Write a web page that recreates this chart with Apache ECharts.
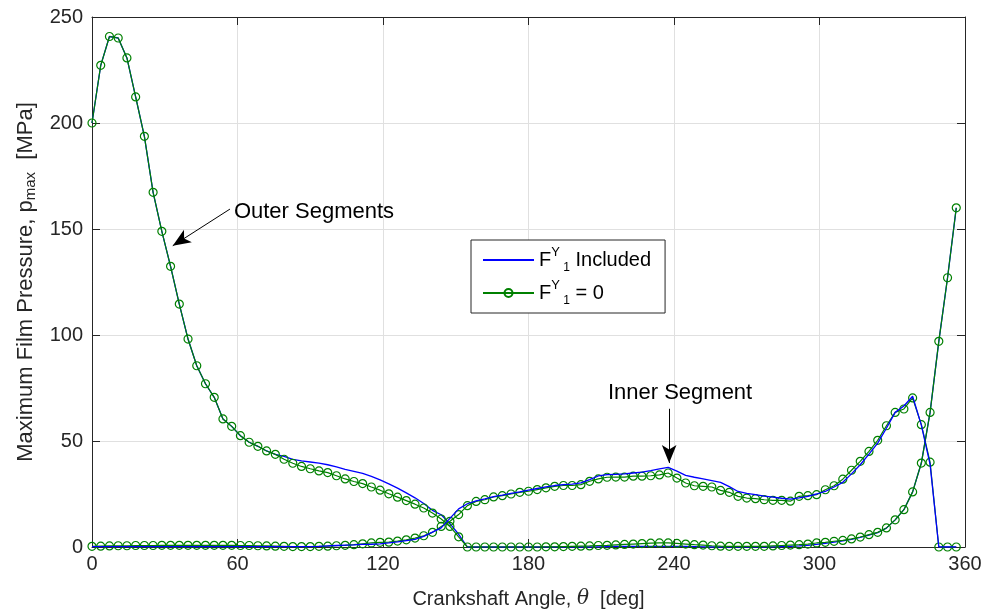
<!DOCTYPE html>
<html><head><meta charset="utf-8">
<script src="https://cdn.jsdelivr.net/npm/echarts@6/dist/echarts.min.js"></script>
<style>html,body{margin:0;padding:0;background:#fff}#c{width:987px;height:615px}</style>
</head><body><div id="c"></div>
<script>
// Crankshaft angle (deg)
const angles = [0,3.6,7.2,10.8,14.4,18,21.6,25.2,28.8,32.4,36,39.6,43.2,46.8,50.4,54,57.6,61.2,64.8,68.4,
72,75.6,79.2,82.8,86.4,90,93.6,97.2,100.8,104.4,108,111.6,115.2,118.8,122.4,126,129.6,133.2,136.8,140.4,
144,147.6,151.2,154.8,158.4,162,165.6,169.2,172.8,176.4,180,183.6,187.2,190.8,194.4,198,201.6,205.2,208.8,212.4,
216,219.6,223.2,226.8,230.4,234,237.6,241.2,244.8,248.4,252,255.6,259.2,262.8,266.4,270,273.6,277.2,280.8,284.4,
288,291.6,295.2,298.8,302.4,306,309.6,313.2,316.8,320.4,324,327.6,331.2,334.8,338.4,342,345.6,349.2,352.8,356.4];

// Outer segments, F^Y_1 included (blue)
const outerIncluded = [200,227.2,240.8,240.1,230.7,212.3,193.7,167.3,148.9,132.4,
114.6,98.1,85.5,77.0,70.6,60.4,56.9,52.5,49.4,47.5,
45.3,43.7,42.7,41.3,40.6,40.1,39.6,38.8,37.8,36.6,
35.7,34.7,33.3,31.7,29.8,27.8,25.5,23.2,20.5,17.3,
15.2,11.0,6.0,0,0,0,0,0,0,0,
0,0,0,0,0,0,0,0,0.1,0.2,
0.3,0.3,0.3,0.3,0.3,0.3,0.3,0.3,0.3,0.2,
0.1,0,0,0,0,0,0,0,0.1,0.2,
0.3,0.5,0.8,1.2,1.7,2.3,2.9,3.6,4.5,5.6,
6.8,8.9,12.8,17.6,26.0,39.6,63.5,97.0,127.0,160.0];

// Outer segments, F^Y_1 = 0 (green, circles)
const outerZero = [200,227.2,240.8,240.1,230.7,212.3,193.7,167.3,148.9,132.4,
114.6,98.1,85.5,77.0,70.6,60.4,56.9,52.5,49.4,47.5,
45.3,43.7,41.4,39.5,38.0,36.9,35.9,35.1,33.6,32.1,
30.9,29.9,28.3,26.8,25.1,23.5,21.9,20.2,18.4,16.0,
13.2,9.7,4.8,0,0,0,0,0,0,0,
0,0,0.1,0.1,0.2,0.3,0.4,0.5,0.7,0.8,
1.0,1.2,1.4,1.6,1.8,1.9,1.9,1.7,1.4,1.1,
0.9,0.6,0.4,0.3,0.3,0.3,0.3,0.3,0.5,0.7,
0.9,1.1,1.4,1.9,2.2,2.7,3.1,3.8,4.7,5.8,
6.9,9.0,12.8,17.6,26.0,39.6,63.5,97.0,127.0,160.0];

// Inner segment, F^Y_1 included (blue)
const innerIncluded = [0.2,0.2,0.2,0.2,0.2,0.2,0.2,0.2,0.2,0.2,
0.2,0.2,0.2,0.2,0.2,0.2,0.2,0.2,0.2,0.2,
0.2,0.2,0.2,0.2,0.2,0.2,0.3,0.5,0.7,0.9,
1.0,1.2,1.3,1.5,1.9,2.4,3.0,3.6,5.0,7.0,
9.0,13.5,18.0,20.4,21.8,22.7,23.8,24.5,25.3,26.0,
26.8,27.6,28.4,29.0,29.4,29.7,30.2,31.8,33.5,34.1,
34.3,34.5,34.9,35.3,36.0,36.8,37.6,35.8,33.8,32.9,
32.1,31.3,30.5,28.5,26.2,25.3,24.7,24.0,23.5,23.0,
22.6,23.2,23.9,25.0,26.2,28.3,30.5,34.5,38.8,43.8,
49.0,56.0,63.5,66.5,71.1,57.5,39.0,0,0,0];

// Inner segment, F^Y_1 = 0 (green, circles)
const innerZero = [0.3,0.4,0.5,0.6,0.6,0.7,0.7,0.7,0.8,0.8,
0.8,0.8,0.8,0.8,0.8,0.8,0.8,0.7,0.7,0.6,
0.5,0.4,0.3,0.2,0.2,0.2,0.3,0.4,0.6,0.8,
1.1,1.5,1.9,2.2,2.3,2.8,3.4,4.2,5.3,6.9,
9.7,12.1,15.3,19.5,21.5,22.3,23.6,24.2,25.0,25.8,
26.3,27.1,27.9,28.6,29.0,29.0,29.4,31.0,32.1,32.9,
33.0,33.0,33.4,33.4,33.6,34.0,34.9,32.5,30.2,28.9,
28.6,28.3,26.7,25.8,23.9,23.1,22.8,22.3,22.0,22.0,
21.6,23.9,24.2,24.7,27.0,28.9,32.0,36.2,40.4,45.1,
50.3,57.2,63.5,65.1,70.3,57.7,40.0,0,0,0];

const xTickLabels = ['0','60','120','180','240','300','360'];
const yTickLabels = ['0','50','100','150','200','250'];

const FONT = "'Liberation Sans', Arial, Helvetica, sans-serif";
const AX = '#262626';
const BLUE = '#0000ff';
const GREEN = '#008000';

const pairs = arr => angles.map((a, i) => [a, arr[i]]);

const chart = echarts.init(document.getElementById('c'), null, {renderer: 'canvas'});

const axisCommon = {
  axisLine: {show: true, onZero: false, lineStyle: {color: AX, width: 1}},
  axisTick: {show: true, inside: true, length: 8, lineStyle: {color: AX, width: 1}}
};

const option = {
  animation: false,
  backgroundColor: '#fff',
  grid: {left: 92, right: 22, top: 17, bottom: 68, containLabel: false},
  legend: {
    data: [
      {name: 'inc', itemStyle: {color: 'rgba(0,0,0,0)', borderWidth: 0}},
      {name: 'zero'}
    ],
    orient: 'vertical',
    left: 471, top: 240,
    padding: [6, 14, 6, 11],
    itemWidth: 51, itemHeight: 10, itemGap: 5,
    borderColor: AX, borderWidth: 1, backgroundColor: '#fff',
    selectedMode: false,
    formatter: n => n === 'inc' ? '{n|F}{sup|Y}{sub| 1}{n| Included}' : '{n|F}{sup|Y}{sub| 1}{n| = 0}',
    textStyle: {
      fontFamily: FONT, color: '#000',
      rich: {
        n: {fontSize: 20, lineHeight: 28, fontFamily: FONT, color: '#000'},
        sup: {fontSize: 13, lineHeight: 13, verticalAlign: 'top', fontFamily: FONT, color: '#000'},
        sub: {fontSize: 12, lineHeight: 12, verticalAlign: 'bottom', fontFamily: FONT, color: '#000'}
      }
    }
  },
  xAxis: [
    Object.assign({
      type: 'value', min: 0, max: 360, interval: 60, position: 'bottom',
      axisLabel: {color: AX, fontSize: 20, fontFamily: FONT, margin: 7,
        formatter: v => xTickLabels[Math.round(v / 60)]},
      splitLine: {show: true, lineStyle: {color: '#e0e0e0', width: 1}},
      name: '{n|Crankshaft Angle, }{it|θ}{n|  [deg]}',
      nameLocation: 'middle', nameGap: 40,
      nameTextStyle: {color: AX, rich: {
        n: {fontSize: 20, lineHeight: 24, fontFamily: FONT, color: AX},
        it: {fontSize: 20, lineHeight: 24, fontStyle: 'italic', fontFamily: "'DejaVu Serif', serif", color: AX}
      }}
    }, axisCommon),
    Object.assign({
      type: 'value', min: 0, max: 360, interval: 60, position: 'top',
      axisLabel: {show: false}, splitLine: {show: false}
    }, axisCommon)
  ],
  yAxis: [
    Object.assign({
      type: 'value', min: 0, max: 250, interval: 50, position: 'left',
      axisLabel: {color: AX, fontSize: 20, fontFamily: FONT, margin: 9,
        formatter: v => yTickLabels[Math.round(v / 50)]},
      splitLine: {show: true, lineStyle: {color: '#e0e0e0', width: 1}},
      name: '{n|Maximum Film Pressure, p}{sub|max}{n|  [MPa]}',
      nameLocation: 'middle', nameGap: 52,
      nameTextStyle: {color: AX, rich: {
        n: {fontSize: 22, lineHeight: 26, fontFamily: FONT, color: AX},
        sub: {fontSize: 15, lineHeight: 15, verticalAlign: 'bottom', fontFamily: FONT, color: AX}
      }}
    }, axisCommon),
    Object.assign({
      type: 'value', min: 0, max: 250, interval: 50, position: 'right',
      axisLabel: {show: false}, splitLine: {show: false}
    }, axisCommon)
  ],
  series: [
    {
      name: 'inc', type: 'line', data: pairs(outerIncluded), symbol: 'none',
      lineStyle: {color: BLUE, width: 1.3}, itemStyle: {color: BLUE}, z: 2
    },
    {
      name: 'zero', type: 'line', data: pairs(outerZero), symbol: 'circle', symbolSize: 8,
      showSymbol: true, showAllSymbol: true,
      lineStyle: {color: GREEN, width: 1.2},
      itemStyle: {color: 'rgba(0,0,0,0)', borderColor: GREEN, borderWidth: 1.2}, z: 3,
      markLine: {
        silent: true, symbol: ['none', 'arrow'], symbolSize: [11, 18],
        label: {show: false},
        lineStyle: {color: '#000', width: 1, type: 'solid'},
        emphasis: {disabled: true},
        data: [
          [{coord: [56.9, 159.4]}, {coord: [33.3, 142.1]}],
          [{coord: [238.0, 65.2]}, {coord: [238.0, 39.6]}]
        ]
      },
      markPoint: {
        silent: true, symbol: 'circle', symbolSize: 1,
        itemStyle: {color: 'rgba(0,0,0,0)'},
        data: [
          {coord: [58.3, 158.0], label: {show: true, position: 'right', distance: 0,
            formatter: 'Outer Segments', fontSize: 22, fontFamily: FONT, color: '#000'}},
          {coord: [242.5, 72.8], label: {show: true, position: 'inside',
            formatter: 'Inner Segment', fontSize: 22, fontFamily: FONT, color: '#000'}}
        ]
      }
    },
    {
      name: 'zero', type: 'line', data: pairs(innerZero), symbol: 'circle', symbolSize: 8,
      showSymbol: true, showAllSymbol: true,
      lineStyle: {color: GREEN, width: 1.2},
      itemStyle: {color: 'rgba(0,0,0,0)', borderColor: GREEN, borderWidth: 1.2}, z: 3
    },
    {
      name: 'inc', type: 'line', data: pairs(innerIncluded), symbol: 'none',
      lineStyle: {color: BLUE, width: 1.3}, itemStyle: {color: BLUE}, z: 4
    }
  ]
};
chart.setOption(option);
</script>
</body></html>
